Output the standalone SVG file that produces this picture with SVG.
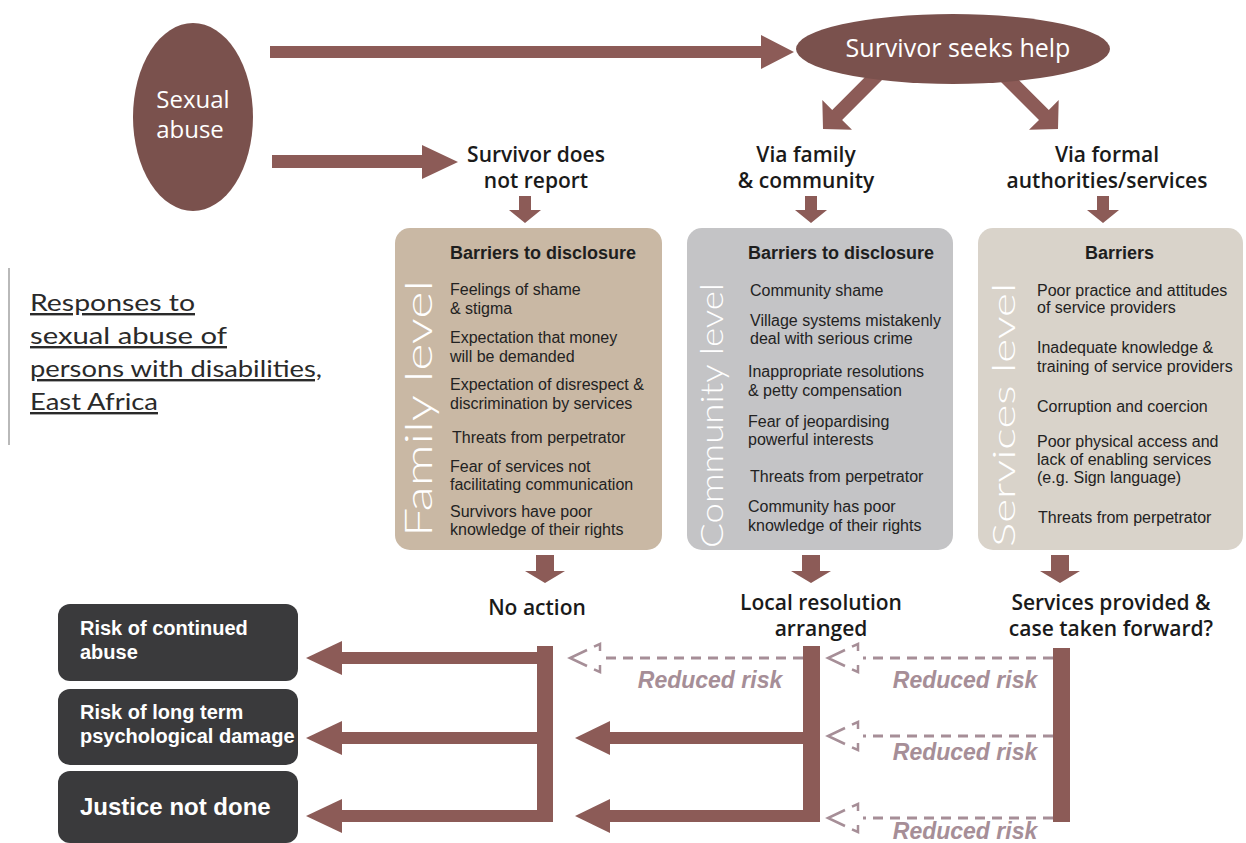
<svg xmlns="http://www.w3.org/2000/svg" xmlns:xlink="http://www.w3.org/1999/xlink" width="1246" height="843" viewBox="0 0 1246 843">
<style>
.arw{fill:#8c5b57}
.ell{fill:#7a514d}
.hd{font-family:"Open Sans","DejaVu Sans",sans-serif;font-weight:600;font-size:21px;fill:#1a1a1a;text-anchor:middle}
.el{font-family:"Open Sans","DejaVu Sans",sans-serif;fill:#ffffff;text-anchor:middle}
.bt{font-family:"Liberation Sans",Arial,sans-serif;font-weight:bold;font-size:18px;fill:#1e1e1e}
.it{font-family:"Liberation Sans",Arial,sans-serif;font-size:16px;fill:#222222}
.vt{font-family:"Lato","Open Sans",sans-serif;font-weight:300;fill:#ffffff}
.dk{fill:#3a3a3c}
.dt{font-family:"Liberation Sans",Arial,sans-serif;font-weight:bold;font-size:20px;fill:#ffffff}
.big{font-size:24px}
.dash{stroke:#a68e97;stroke-width:3;stroke-dasharray:10 7;fill:none}
.oh{stroke:#a68e97;stroke-width:2.5;fill:none}
.rr{font-family:"Liberation Sans",Arial,sans-serif;font-weight:bold;font-style:italic;font-size:23px;fill:#a68e97;text-anchor:middle}
.ttl{font-family:"Lato","Open Sans",sans-serif;font-size:24px;fill:#2a2a2a;text-decoration:underline}
</style>
<defs>
<path id="oh" d="M17,-8 L0,0 L17,8 M24,-11.3 L30,-14 L30,-7 M24,11.3 L30,14 L30,7"/>
<path id="dn" d="M-6,0 H6 V14 H16 L0,27 L-16,14 H-6 Z"/>
<path id="dn2" d="M-9,0 H9 V16 H20 L0,28 L-20,16 H-9 Z"/>
</defs>

<g id="connectors">
  <polygon class="arw" points="270,46 761,46 761,35 794,52 761,69 761,58 270,58"/>
  <polygon class="arw" points="272,155 422,155 422,145 458,162 422,179 422,168 272,168"/>
  <polygon class="arw" points="874.6,67.6 832.2,110.0 822.3,100.1 823,129 852.0,129.8 842.1,119.9 884.5,77.5"/>
  <polygon class="arw" points="1006.4,67.6 1048.8,110.0 1058.7,100.1 1058,129 1029.0,129.8 1039.0,119.9 996.5,77.5"/>
  <use xlink:href="#dn" class="arw" x="525" y="196"/>
  <use xlink:href="#dn" class="arw" x="811" y="196"/>
  <use xlink:href="#dn" class="arw" x="1103" y="196"/>
  <use xlink:href="#dn2" class="arw" x="545" y="555"/>
  <use xlink:href="#dn2" class="arw" x="811" y="555"/>
  <use xlink:href="#dn2" class="arw" x="1060" y="555"/>
  <rect class="arw" x="537" y="646" width="16" height="176"/>
  <rect class="arw" x="340" y="652" width="200" height="12"/>
  <polygon class="arw" points="342,641 306,658 342,675"/>
  <rect class="arw" x="340" y="732" width="200" height="12"/>
  <polygon class="arw" points="342,721 306,738 342,755"/>
  <rect class="arw" x="340" y="810" width="200" height="12"/>
  <polygon class="arw" points="342,799 306,816 342,833"/>
  <rect class="arw" x="803" y="646" width="17" height="176"/>
  <rect class="arw" x="608" y="732" width="198" height="12"/>
  <polygon class="arw" points="610,721 575,738 610,755"/>
  <rect class="arw" x="608" y="810" width="198" height="12"/>
  <polygon class="arw" points="610,799 575,816 610,833"/>
  <rect class="arw" x="1053" y="648" width="17" height="174"/>
  <line class="dash" x1="803" y1="658" x2="605" y2="658"/>
  <use xlink:href="#oh" class="oh" x="570" y="658"/>
  <line class="dash" x1="1053" y1="658" x2="863" y2="658"/>
  <use xlink:href="#oh" class="oh" x="828" y="658"/>
  <line class="dash" x1="1053" y1="736" x2="863" y2="736"/>
  <use xlink:href="#oh" class="oh" x="828" y="736"/>
  <line class="dash" x1="1053" y1="818" x2="863" y2="818"/>
  <use xlink:href="#oh" class="oh" x="828" y="818"/>
  <text class="rr" x="710" y="688">Reduced risk</text>
  <text class="rr" x="965" y="688">Reduced risk</text>
  <text class="rr" x="965" y="760">Reduced risk</text>
  <text class="rr" x="965" y="839">Reduced risk</text>
</g>

<g id="sexual-abuse">
  <ellipse class="ell" cx="193" cy="117" rx="60" ry="94"/>
  <text class="el" x="193" y="108" font-size="24">Sexual</text>
  <text class="el" x="190" y="138" font-size="24">abuse</text>
</g>

<g id="seeks-help">
  <ellipse class="ell" cx="953" cy="49" rx="157" ry="35"/>
  <text class="el" x="958" y="57" font-size="25">Survivor seeks help</text>
</g>

<g id="not-report">
  <text class="hd" x="536" y="162">Survivor does</text>
  <text class="hd" x="536" y="188">not report</text>
</g>
<g id="via-family">
  <text class="hd" x="806" y="162">Via family</text>
  <text class="hd" x="806" y="188">&amp; community</text>
</g>
<g id="via-formal">
  <text class="hd" x="1107" y="162">Via formal</text>
  <text class="hd" x="1107" y="188">authorities/services</text>
</g>

<g id="title">
  <line x1="9" y1="268" x2="9" y2="445" stroke="#8a8a8a" stroke-width="1.2"/>
  <text class="ttl" x="30" y="311" textLength="165" lengthAdjust="spacingAndGlyphs">Responses to</text>
  <text class="ttl" x="30" y="344" textLength="197" lengthAdjust="spacingAndGlyphs">sexual abuse of</text>
  <text class="ttl" x="30" y="377" textLength="292" lengthAdjust="spacingAndGlyphs">persons with disabilities,</text>
  <text class="ttl" x="30" y="410" textLength="128" lengthAdjust="spacingAndGlyphs">East Africa</text>
</g>

<g id="family-box">
  <rect x="395" y="228" width="267" height="322" rx="15" fill="#c9b8a4"/>
  <text class="vt" font-size="38" transform="translate(432,537) rotate(-90)" textLength="257" lengthAdjust="spacingAndGlyphs">Family level</text>
  <text class="bt" x="450" y="259">Barriers to disclosure</text>
  <text class="it" x="450" y="295">Feelings of shame</text>
  <text class="it" x="450" y="314">&amp; stigma</text>
  <text class="it" x="450" y="343">Expectation that money</text>
  <text class="it" x="450" y="362">will be demanded</text>
  <text class="it" x="450" y="390">Expectation of disrespect &amp;</text>
  <text class="it" x="450" y="409">discrimination by services</text>
  <text class="it" x="452" y="443">Threats from perpetrator</text>
  <text class="it" x="450" y="472">Fear of services not</text>
  <text class="it" x="450" y="490">facilitating communication</text>
  <text class="it" x="450" y="517">Survivors have poor</text>
  <text class="it" x="450" y="535">knowledge of their rights</text>
</g>

<g id="community-box">
  <rect x="687" y="228" width="266" height="322" rx="15" fill="#c4c4c6"/>
  <text class="vt" font-size="31" transform="translate(723,548) rotate(-90)" textLength="265" lengthAdjust="spacingAndGlyphs">Community level</text>
  <text class="bt" x="748" y="259">Barriers to disclosure</text>
  <text class="it" x="750" y="296">Community shame</text>
  <text class="it" x="750" y="326">Village systems mistakenly</text>
  <text class="it" x="750" y="344">deal with serious crime</text>
  <text class="it" x="748" y="377">Inappropriate resolutions</text>
  <text class="it" x="748" y="396">&amp; petty compensation</text>
  <text class="it" x="748" y="427">Fear of jeopardising</text>
  <text class="it" x="748" y="445">powerful interests</text>
  <text class="it" x="750" y="482">Threats from perpetrator</text>
  <text class="it" x="748" y="512">Community has poor</text>
  <text class="it" x="748" y="531">knowledge of their rights</text>
</g>

<g id="services-box">
  <rect x="978" y="228" width="265" height="322" rx="15" fill="#d9d3ca"/>
  <text class="vt" font-size="32" transform="translate(1015,547) rotate(-90)" textLength="264" lengthAdjust="spacingAndGlyphs">Services level</text>
  <text class="bt" x="1085" y="259">Barriers</text>
  <text class="it" x="1037" y="296">Poor practice and attitudes</text>
  <text class="it" x="1037" y="313">of service providers</text>
  <text class="it" x="1037" y="353">Inadequate knowledge &amp;</text>
  <text class="it" x="1037" y="372">training of service providers</text>
  <text class="it" x="1037" y="412">Corruption and coercion</text>
  <text class="it" x="1037" y="447">Poor physical access and</text>
  <text class="it" x="1037" y="465">lack of enabling services</text>
  <text class="it" x="1037" y="483">(e.g. Sign language)</text>
  <text class="it" x="1038" y="523">Threats from perpetrator</text>
</g>

<g id="no-action">
  <text class="hd" x="537" y="615">No action</text>
</g>
<g id="local-resolution">
  <text class="hd" x="821" y="610">Local resolution</text>
  <text class="hd" x="821" y="636">arranged</text>
</g>
<g id="services-provided">
  <text class="hd" x="1111" y="610">Services provided &amp;</text>
  <text class="hd" x="1111" y="636">case taken forward?</text>
</g>

<g id="risk-continued">
  <rect class="dk" x="58" y="604" width="240" height="77" rx="12"/>
  <text class="dt" x="80" y="635">Risk of continued</text>
  <text class="dt" x="80" y="659">abuse</text>
</g>
<g id="risk-psych">
  <rect class="dk" x="58" y="689" width="240" height="76" rx="12"/>
  <text class="dt" x="80" y="719">Risk of long term</text>
  <text class="dt" x="80" y="743">psychological damage</text>
</g>
<g id="justice">
  <rect class="dk" x="58" y="771" width="240" height="72" rx="12"/>
  <text class="dt big" x="80" y="815">Justice not done</text>
</g>
</svg>
